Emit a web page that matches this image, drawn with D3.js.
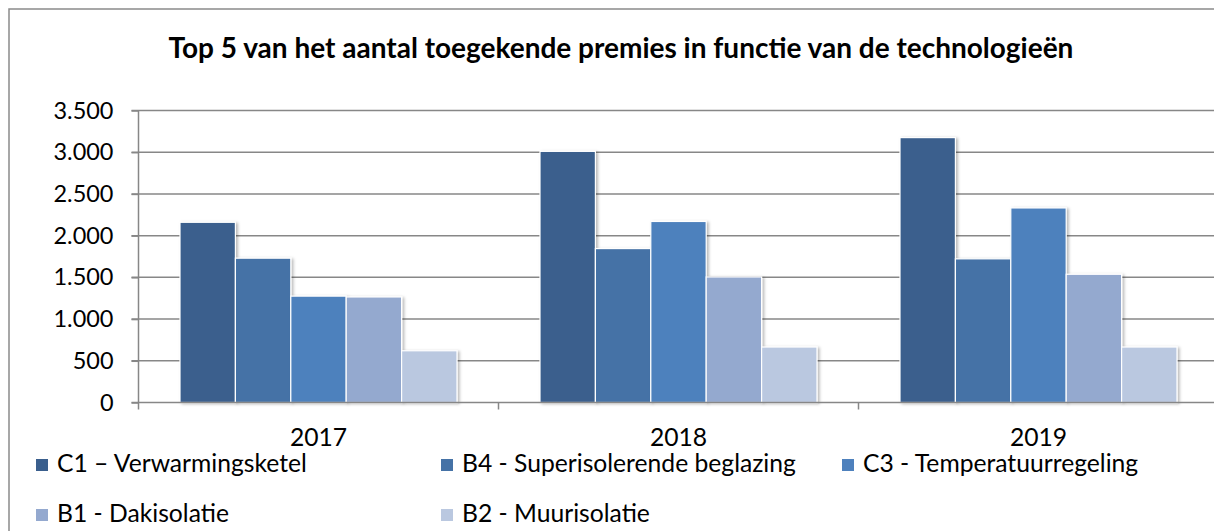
<!DOCTYPE html>
<html>
<head>
<meta charset="utf-8">
<script src="https://cdn.jsdelivr.net/npm/d3@7"></script>
<style>
  html, body { margin: 0; padding: 0; background: #fff; }
  svg { display: block; }
  text { font-family: Lato, "Open Sans", sans-serif; fill: #000; }
</style>
</head>
<body>
<svg id="chart" width="1214" height="531"></svg>
<script>
// ---- data ----
const title = "Top 5 van het aantal toegekende premies in functie van de technologieën";
const years = ["2017", "2018", "2019"];
const seriesNames = ["C1 – Verwarmingsketel", "B4 - Superisolerende beglazing", "C3 - Temperatuurregeling", "B1 - Dakisolatie", "B2 - Muurisolatie"];
const c1Values = [2160, 3010, 3175];
const b4Values = [1730, 1845, 1722];
const c3Values = [1275, 2170, 2332];
const b1Values = [1265, 1505, 1537];
const b2Values = [620, 665, 665];
const yTickValues = [0, 500, 1000, 1500, 2000, 2500, 3000, 3500];
const seriesColors = ["#3A5F8D", "#4572A6", "#4E81BD", "#94A9CF", "#BAC8E0"];

const seriesValues = [c1Values, b4Values, c3Values, b1Values, b2Values];
const rows = [];
years.forEach((yr, i) => seriesNames.forEach((s, j) => rows.push({ year: yr, series: s, value: seriesValues[j][i], color: seriesColors[j] })));

// ---- layout ----
const svg = d3.select("#chart");
const W = 1214, H = 531;
const plotLeft = 138.5, bandW = 360, plotTop = 110.5, plotBottom = 402.5;

const defs = svg.append("defs");
const f = defs.append("filter").attr("id", "shadow").attr("x", "-20%").attr("y", "-20%").attr("width", "140%").attr("height", "140%");
f.append("feDropShadow").attr("dx", 2).attr("dy", 1).attr("stdDeviation", 1.5).attr("flood-color", "#000").attr("flood-opacity", 0.28);

// frame
svg.append("rect").attr("x", 9).attr("y", 9).attr("width", 1240).attr("height", 560)
  .attr("fill", "#fff").attr("stroke", "#8a8a8a").attr("stroke-width", 1.5);

const x = d3.scaleBand().domain(years).range([plotLeft, plotLeft + bandW * years.length]).padding(0);
const xs = d3.scaleBand().domain(seriesNames).range([41.5, bandW - 41.5]).padding(0);
const y = d3.scaleLinear().domain([0, 3500]).range([plotBottom, plotTop]);

const loc = d3.formatLocale({ decimal: ",", thousands: ".", grouping: [3], currency: ["", ""] });
const fmt = loc.format(",d");

// gridlines
svg.append("g").selectAll("line").data(yTickValues.filter(d => d > 0)).join("line")
  .attr("x1", plotLeft - 7).attr("x2", W + 10)
  .attr("y1", d => y(d)).attr("y2", d => y(d))
  .attr("stroke", "#878787").attr("stroke-width", 1.5);

// y axis
const yAxis = svg.append("g").attr("transform", `translate(${plotLeft},0)`)
  .call(d3.axisLeft(y).tickValues(yTickValues).tickFormat(fmt).tickSize(7).tickPadding(18));
yAxis.select(".domain").remove();
yAxis.selectAll(".tick line").attr("stroke", "#878787").attr("stroke-width", 1.5);
yAxis.selectAll(".tick text").attr("font-size", 22).attr("fill", "#000");
svg.append("line").attr("x1", plotLeft).attr("x2", plotLeft).attr("y1", plotTop).attr("y2", plotBottom + 7)
  .attr("stroke", "#878787").attr("stroke-width", 1.5);

// bars
svg.append("g").selectAll("rect").data(rows).join("rect")
  .attr("x", d => x(d.year) + xs(d.series))
  .attr("width", xs.bandwidth())
  .attr("y", d => y(d.value))
  .attr("height", d => y(0) - y(d.value))
  .attr("fill", d => d.color)
  .attr("stroke", "#fff").attr("stroke-width", 1.2)
  .attr("filter", "url(#shadow)");

// x axis
const xAxis = svg.append("g").attr("transform", `translate(0,${plotBottom})`)
  .call(d3.axisBottom(x).tickSize(0).tickPadding(0));
xAxis.select(".domain").remove();
xAxis.selectAll(".tick text").attr("font-size", 22).attr("fill", "#000").attr("y", 43).attr("dy", null);
svg.append("line").attr("x1", plotLeft - 7).attr("x2", W + 10).attr("y1", plotBottom).attr("y2", plotBottom)
  .attr("stroke", "#878787").attr("stroke-width", 1.5);
svg.append("g").selectAll("line").data(years.slice(1)).join("line")
  .attr("x1", d => x(d)).attr("x2", d => x(d))
  .attr("y1", plotBottom).attr("y2", plotBottom + 7)
  .attr("stroke", "#878787").attr("stroke-width", 1.5);

// title
const t = svg.append("text").attr("x", 621).attr("y", 58).attr("text-anchor", "middle")
  .attr("font-weight", "bold").attr("font-size", 24).text(title);
const tw = t.node().getComputedTextLength();
t.attr("font-size", 24 * 905 / tw);

// legend
const legendPos = [[36, 472], [441, 472], [842, 472], [36, 522], [441, 522]];
const lg = svg.append("g").selectAll("g").data(seriesNames).join("g")
  .attr("transform", (d, i) => `translate(${legendPos[i][0]},${legendPos[i][1]})`);
lg.append("rect").attr("x", 0).attr("y", -13).attr("width", 12).attr("height", 12)
  .attr("fill", (d, i) => seriesColors[i]);
const lt = lg.append("text").attr("x", 21).attr("y", 0).attr("font-size", 22).text(d => d);
// fit legend font so the first item spans ~250px
const lw = lt.nodes()[0].getComputedTextLength();
const lfs = 22 * 250 / lw;
lt.attr("font-size", lfs);
xAxis.selectAll(".tick text").attr("font-size", lfs);
// fit y tick font so "3.500" spans ~60px
const yt = yAxis.selectAll(".tick text").nodes();
const yw = yt[yt.length - 1].getComputedTextLength();
yAxis.selectAll(".tick text").attr("font-size", 22 * 60 / yw);
</script>
</body>
</html>
